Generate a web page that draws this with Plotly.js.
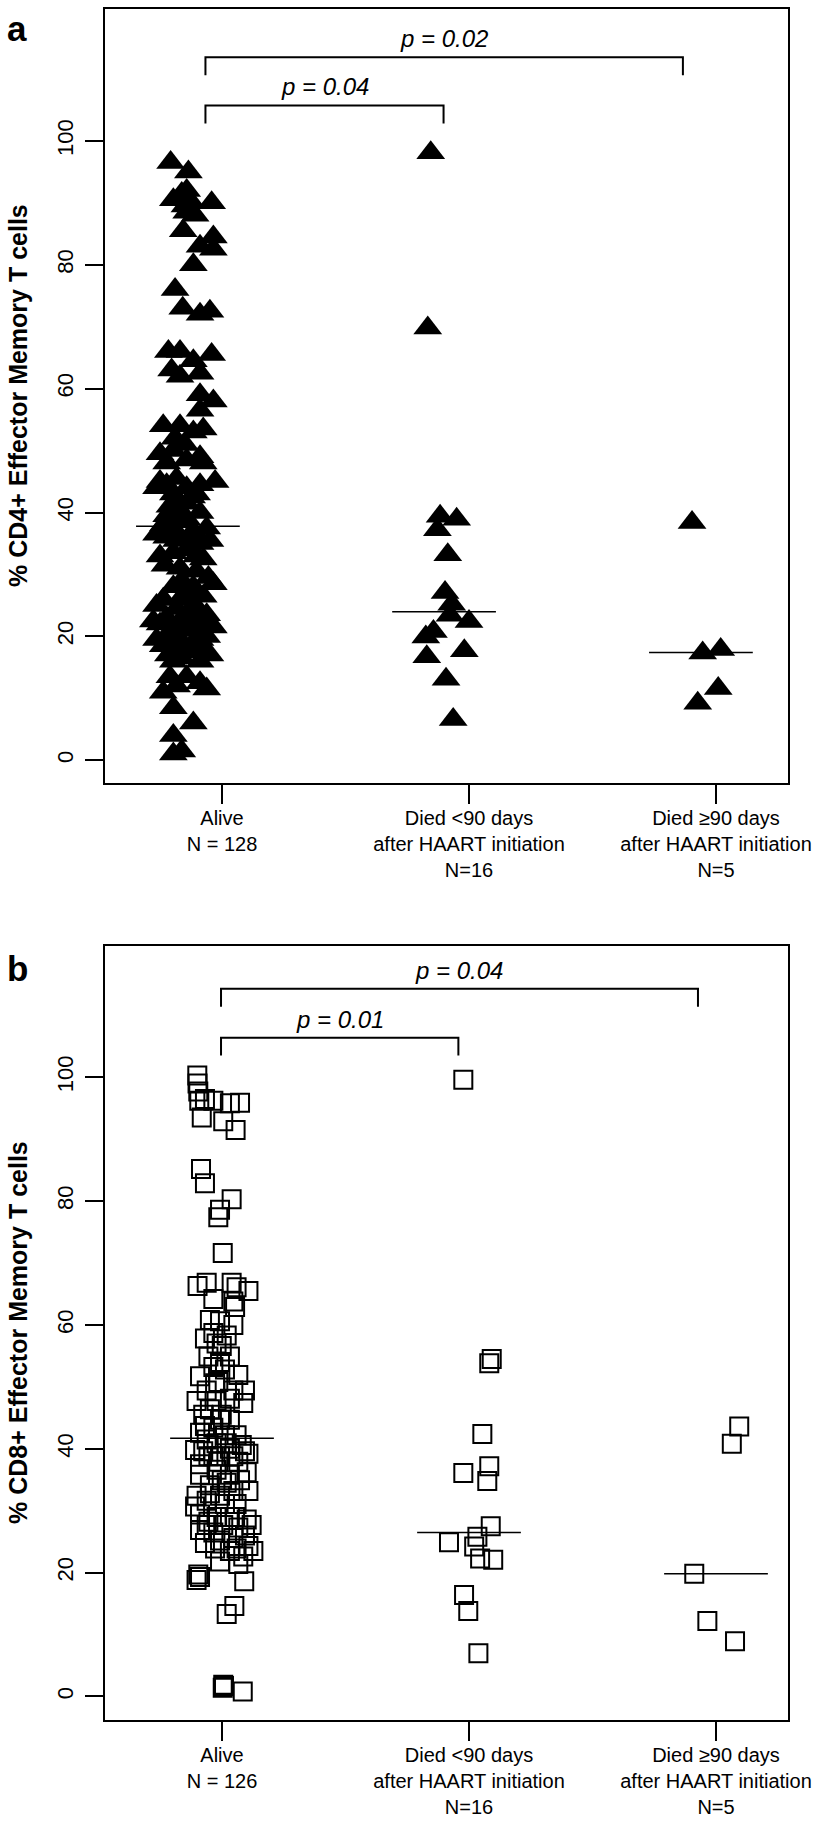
<!DOCTYPE html>
<html><head><meta charset="utf-8">
<script src="https://cdn.plot.ly/plotly-3.0.1.min.js"></script>
<style>html,body{margin:0;padding:0;background:#fff}#chart{width:826px;height:1823px}</style>
</head><body><div id="chart"></div>
<script>
// ---------- DATA ----------
const catA = ["Alive<br>N = 128", "Died &lt;90 days<br>after HAART initiation<br>N=16", "Died ≥90 days<br>after HAART initiation<br>N=5"];
const catB = ["Alive<br>N = 126", "Died &lt;90 days<br>after HAART initiation<br>N=16", "Died ≥90 days<br>after HAART initiation<br>N=5"];
const tickY = [0, 20, 40, 60, 80, 100];

// Panel a (CD4+), Alive: jittered x, value
const aAliveX = [0.792,0.864,0.837,0.803,0.877,0.850,0.958,0.857,0.891,0.843,0.965,0.911,0.965,0.884,0.810,0.841,0.911,0.951,0.783,0.830,
0.958,0.884,0.796,0.830,0.911,0.911,0.965,0.911,0.762,0.830,0.924,0.810,0.850,0.749,0.776,0.911,0.924,0.857,0.749,0.776,
0.816,0.857,0.911,0.972,0.803,0.877,0.789,0.830,0.857,0.762,0.803,0.843,0.884,0.938,0.776,0.816,0.864,0.911,0.951,0.749,
0.803,0.857,0.924,0.769,0.830,0.897,0.945,0.837,0.803,0.884,0.965,0.857,0.924,0.762,0.735,0.816,0.911,0.776,0.857,0.938,
0.749,0.803,0.843,0.897,0.965,0.776,0.830,0.884,0.938,0.762,0.816,0.864,0.924,0.783,0.837,0.911,0.803,0.951,0.789,0.857,
0.911,0.762,0.938,0.816,0.803,0.884,0.803,0.803,0.837,0.735,0.897,0.816,0.911,0.857,0.776,0.735,0.897,0.830,0.884,0.722,
0.924,0.830,0.735,0.911,0.870,0.803,0.884,0.857];
const aAliveY = [96.5,95,91.5,90.5,90,89.5,90,88.5,88,85.5,84.5,83,82.5,80,76,73,72,72.5,66,66,
65.5,64.5,63,62,62.5,59,58,56.5,54,54,53.5,52,51,49.5,48,49,48,48.5,45,44.5,
45.5,44,44.5,45,43,42.5,41,40,39,38,37.5,38.5,37,37.5,36,35.5,36,35,35.5,33,
33.5,34,32.5,31.5,31,30.5,29.5,29,28,28,28.5,27,26.5,26,25,24.5,24,23,23,23.5,
22,21.5,21,21,21.5,20,19.5,19,20,18.5,18,17.5,18,17,16.5,16,16,17,13.5,13.5,
12.5,11,11.5,12,8.5,6,4,1,1.5,44,43,42,40,41.5,39.5,36.5,33,26,25,22.5,
22,22.5,19.5,19.5,21.5,50,53,92];
// Panel a, Died <90 days
const aEarlyX = [1.845,1.833,1.883,1.950,1.872,1.914,1.903,1.930,1.923,2.000,1.856,1.825,1.981,1.829,1.907,1.936];
const aEarlyY = [98.1,69.8,39.4,38.9,37.2,33.2,27.1,25.2,23.4,22.4,20.8,19.9,17.7,16.7,13.1,6.6];
// Panel a, Died >=90 days
const aLateX = [2.903,2.946,3.019,3.009,2.926];
const aLateY = [38.4,17.3,17.9,11.6,9.2];
// Panel a medians
const aMedX = [0.862, 1.899, 2.939];
const aMedY = [37.8, 24.0, 17.4];
// Panel a brackets
const aBrX1 = [0.933, 0.933];
const aBrX2 = [2.866, 1.897];
const aBrY = [113.5, 105.7];
const aBrLabel = ["p = 0.02", "p = 0.04"];
const aBrLabelY = [116.6, 108.8];

// Panel b (CD8+), Alive
const bAliveX = [0.900,0.901,0.904,0.908,0.931,0.965,0.918,1.032,1.073,1.005,1.055,
0.915,0.931,1.039,0.992,0.985,1.003,
0.901,0.938,1.039,1.107,1.059,1.046,0.965,1.053,
0.951,0.992,0.965,1.019,0.931,0.999,1.032,0.945,0.992,0.965,0.911,1.066,0.985,
0.938,1.046,1.093,0.897,0.978,1.086,0.924,0.999,1.032,0.965,0.911,1.012,1.059,0.938,0.978,
0.891,1.032,1.093,0.945,0.992,1.066,0.911,1.107,0.978,1.032,1.100,0.911,0.999,1.073,0.951,1.046,1.107,0.897,0.992,0.938,1.059,
0.891,0.911,0.978,1.032,1.100,0.945,1.005,1.066,1.120,0.911,0.965,1.046,1.093,0.931,0.992,1.107,1.059,1.086,0.992,1.066,0.904,0.911,0.897,1.090,
1.050,1.019,1.005,1.008,1.003,1.084,
0.985,1.019,0.965,0.924,1.046,0.992,0.951,1.032,0.972,1.012,0.978,1.046,0.938,0.972,1.032,1.127,1.012,0.951,1.053,0.931,1.019,1.080];
const bAliveY = [100.3,99,97.7,96.2,96.5,96.2,93.5,95.8,95.9,92.9,91.5,
85.2,82.9,80.3,78.6,77.4,71.6,
66.3,66.8,66.8,65.5,66.1,63.8,64.2,62.9,
60.8,60.6,58.7,58.3,57.8,56.6,54.9,54.9,54,53.2,51.7,51.9,50.8,
49.4,49.4,49.4,47.7,47.7,47.4,45.5,45.5,44.7,43.4,42.6,42.2,42.2,41.5,40.9,
39.8,40,39.6,38.8,38.8,37.9,37.5,39.2,36.6,35.8,36.2,35.8,34.9,34.9,34.1,33.2,33.2,32.4,32.4,31.6,31.1,
30.7,29.4,29,29,28.6,28.2,27.7,27.3,27.7,26.9,26.5,25.6,26,24.8,25.2,24.3,23.9,22.6,21.8,21.4,19.7,19.3,18.8,18.6,
14.6,13.3,1.9,1.7,1.4,0.8,
37.9,34.5,38.8,39.6,38.8,44.7,46.4,48.1,50.6,52.8,57,60,27.7,23.9,23.5,23.5,31.1,32.8,29,43.7,40.9,40.6];
// Panel b, Died <90 days
const bEarlyX = [1.977,2.092,2.082,2.054,1.977,2.082,2.074,2.088,1.919,2.034,2.021,2.045,2.098,1.980,1.997,2.038];
const bEarlyY = [99.6,54.5,53.8,42.4,36.1,37.2,34.8,27.5,24.9,25.8,24.2,22.3,22.1,16.4,13.8,7.0];
// Panel b, Died >=90 days
const bLateX = [3.094,3.064,2.912,2.965,3.077];
const bLateY = [43.6,40.8,19.8,12.2,8.9];
// Panel b medians
const bMedX = [1, 2, 3];
const bMedY = [41.7, 26.5, 19.8];
// Panel b brackets
const bBrX1 = [0.996, 0.996];
const bBrX2 = [2.927, 1.957];
const bBrY = [114.3, 106.4];
const bBrLabel = ["p = 0.04", "p = 0.01"];
const bBrLabelY = [117.2, 109.3];

// ---------- STYLE / LAYOUT ----------
const FONT = "Liberation Sans, Arial, Helvetica, sans-serif";
const W = 826, H = 1823;
const MED_HALF = 0.21, DROP = 2.9;

function medianTrace(cx, cy, xa, ya) {
  const x = [], y = [];
  cx.forEach((c, i) => { x.push(c - MED_HALF, c + MED_HALF, null); y.push(cy[i], cy[i], null); });
  return {x, y, xaxis: xa, yaxis: ya, mode: 'lines', line: {color: '#000', width: 1.5}, hoverinfo: 'skip'};
}
function bracketTrace(x1, x2, yy, xa, ya) {
  const x = [], y = [];
  x1.forEach((a, i) => {
    x.push(a, a, x2[i], x2[i], null);
    y.push(yy[i] - DROP, yy[i], yy[i], yy[i] - DROP, null);
  });
  return {x, y, xaxis: xa, yaxis: ya, mode: 'lines', line: {color: '#000', width: 2}, hoverinfo: 'skip'};
}
const tri = {symbol: 'triangle-up', size: 25, color: '#000', line: {width: 0}};
const sq = {symbol: 'square-open', size: 18, color: '#000', line: {width: 2, color: '#000'}};

const data = [
  {x: aAliveX, y: aAliveY, name: 'Alive', xaxis: 'x', yaxis: 'y', mode: 'markers', marker: tri},
  {x: aEarlyX, y: aEarlyY, name: 'Died <90 days', xaxis: 'x', yaxis: 'y', mode: 'markers', marker: tri},
  {x: aLateX, y: aLateY, name: 'Died ≥90 days', xaxis: 'x', yaxis: 'y', mode: 'markers', marker: tri},
  medianTrace(aMedX, aMedY, 'x', 'y'),
  bracketTrace(aBrX1, aBrX2, aBrY, 'x', 'y'),
  {x: bAliveX, y: bAliveY, name: 'Alive', xaxis: 'x2', yaxis: 'y2', mode: 'markers', marker: sq},
  {x: bEarlyX, y: bEarlyY, name: 'Died <90 days', xaxis: 'x2', yaxis: 'y2', mode: 'markers', marker: sq},
  {x: bLateX, y: bLateY, name: 'Died ≥90 days', xaxis: 'x2', yaxis: 'y2', mode: 'markers', marker: sq},
  medianTrace(bMedX, bMedY, 'x2', 'y2'),
  bracketTrace(bBrX1, bBrX2, bBrY, 'x2', 'y2')
];

function xAxis(anchor, ticks) {
  return {domain: [105 / W, 788 / W], range: [0.5263, 3.2915], anchor,
    tickvals: [1, 2, 3], ticktext: ticks, ticks: 'outside', ticklen: 19, tickwidth: 2, tickcolor: '#000',
    showline: true, mirror: true, linewidth: 2, linecolor: '#000', showgrid: false, zeroline: false,
    tickfont: {family: FONT, size: 20, color: '#000'}, ticklabelstandoff: -3, fixedrange: true};
}
function yAxis(anchor, top, bottom, range) {
  return {domain: [1 - bottom / H, 1 - top / H], range, anchor,
    tickvals: tickY, ticks: 'outside', ticklen: 18, tickwidth: 2, tickcolor: '#000', tickangle: -90,
    showline: true, mirror: true, linewidth: 2, linecolor: '#000', showgrid: false, zeroline: false,
    tickfont: {family: FONT, size: 22, color: '#000'}, ticklabelstandoff: 3, fixedrange: true};
}

const annotations = [];
function addPanel(letter, letterY, ytitle, ytitleY, xa, ya, x1, x2, labels, labelY) {
  annotations.push({text: '<b>' + letter + '</b>', xref: 'paper', yref: 'paper', x: 17 / W, y: 1 - letterY / H,
    xanchor: 'center', yanchor: 'middle', showarrow: false, font: {family: FONT, size: 35, color: '#000'}});
  annotations.push({text: '<b>' + ytitle + '</b>', xref: 'paper', yref: 'paper', x: 18 / W, y: 1 - ytitleY / H,
    xanchor: 'center', yanchor: 'middle', textangle: -90, showarrow: false, font: {family: FONT, size: 25, color: '#000'}});
  labels.forEach((t, i) => {
    annotations.push({text: t, xref: xa, yref: ya, x: (x1[i] + x2[i]) / 2, y: labelY[i],
      xanchor: 'center', yanchor: 'middle', showarrow: false,
      font: {family: FONT, size: 24, color: '#000', style: 'italic'}});
  });
}
addPanel('a', 28, '% CD4+ Effector Memory T cells', 396, 'x', 'y', aBrX1, aBrX2, aBrLabel, aBrLabelY);
addPanel('b', 968, '% CD8+ Effector Memory T cells', 1333, 'x2', 'y2', bBrX1, bBrX2, bBrLabel, bBrLabelY);

const layout = {
  width: W, height: H, margin: {l: 0, r: 0, t: 0, b: 0},
  paper_bgcolor: '#fff', plot_bgcolor: '#fff', showlegend: false,
  font: {family: FONT, color: '#000'},
  xaxis: xAxis('y', catA),
  yaxis: yAxis('x', 9, 783, [-3.67, 121.3]),
  xaxis2: xAxis('y2', catB),
  yaxis2: yAxis('x2', 946, 1720, [-3.8, 121.2]),
  annotations
};
Plotly.newPlot('chart', data, layout, {displayModeBar: false, staticPlot: true});
</script></body></html>
